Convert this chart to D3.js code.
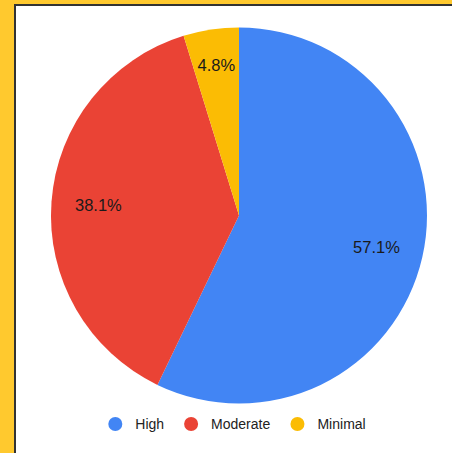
<!DOCTYPE html>
<html><head><meta charset="utf-8">
<script src="https://cdn.jsdelivr.net/npm/d3@7"></script>
<style>
html,body{margin:0;padding:0;background:#FFC92E;overflow:hidden;}
svg{display:block;}
</style></head>
<body>
<svg id="chart" width="452" height="453"></svg>
<script>
const categories = ["High", "Moderate", "Minimal"];
const values = [12, 8, 1];
const colors = ["#4285F4", "#EA4335", "#FBBC04"];

const W = 452, H = 453;
const svg = d3.select("#chart");
svg.append("rect").attr("x", 0).attr("y", 0).attr("width", W).attr("height", H).attr("fill", "#FFC92E");
svg.append("rect").attr("x", 15).attr("y", 5).attr("width", W + 20).attr("height", H + 20)
  .attr("fill", "#fff").attr("stroke", "#333").attr("stroke-width", 2);

const cx = 239, cy = 215.5, r = 188;
const total = d3.sum(values);
const pie = d3.pie().sort(null).value(d => d)(values);
const arc = d3.arc().innerRadius(0).outerRadius(r);
const g = svg.append("g").attr("transform", `translate(${cx},${cy})`);
g.selectAll("path").data(pie).join("path")
  .attr("d", arc).attr("fill", (d, i) => colors[i]);

const fmt = v => (v / total * 100).toFixed(1) + "%";
g.selectAll("text.lbl").data(pie).join("text").attr("class", "lbl")
  .attr("transform", d => {
    const a = (d.startAngle + d.endAngle) / 2;
    const span = d.endAngle - d.startAngle;
    const k = span < 0.5 ? 0.81 : 0.75;
    return `translate(${Math.sin(a) * r * k},${-Math.cos(a) * r * k})`;
  })
  .attr("text-anchor", "middle").attr("dy", "0.36em")
  .attr("font-family", "Arial, 'Liberation Sans', sans-serif").attr("font-size", 16.5)
  .attr("fill", "#1a1a1a")
  .text(d => fmt(d.data));

// legend
const lg = svg.append("g");
const items = lg.selectAll("g").data(categories).join("g");
items.append("circle").attr("r", 7).attr("cx", 7).attr("cy", 0).attr("fill", (d, i) => colors[i]);
items.append("text").attr("x", 27).attr("dy", "0.36em")
  .attr("font-family", "Arial, 'Liberation Sans', sans-serif").attr("font-size", 14)
  .attr("fill", "#222").text(d => d);
let x = 0;
items.each(function () {
  const w = this.getBBox().width;
  d3.select(this).attr("transform", `translate(${x},0)`);
  x += w + 20;
});
const totalW = x - 20;
lg.attr("transform", `translate(${cx - 2 - totalW / 2},424)`);
</script>
</body></html>
